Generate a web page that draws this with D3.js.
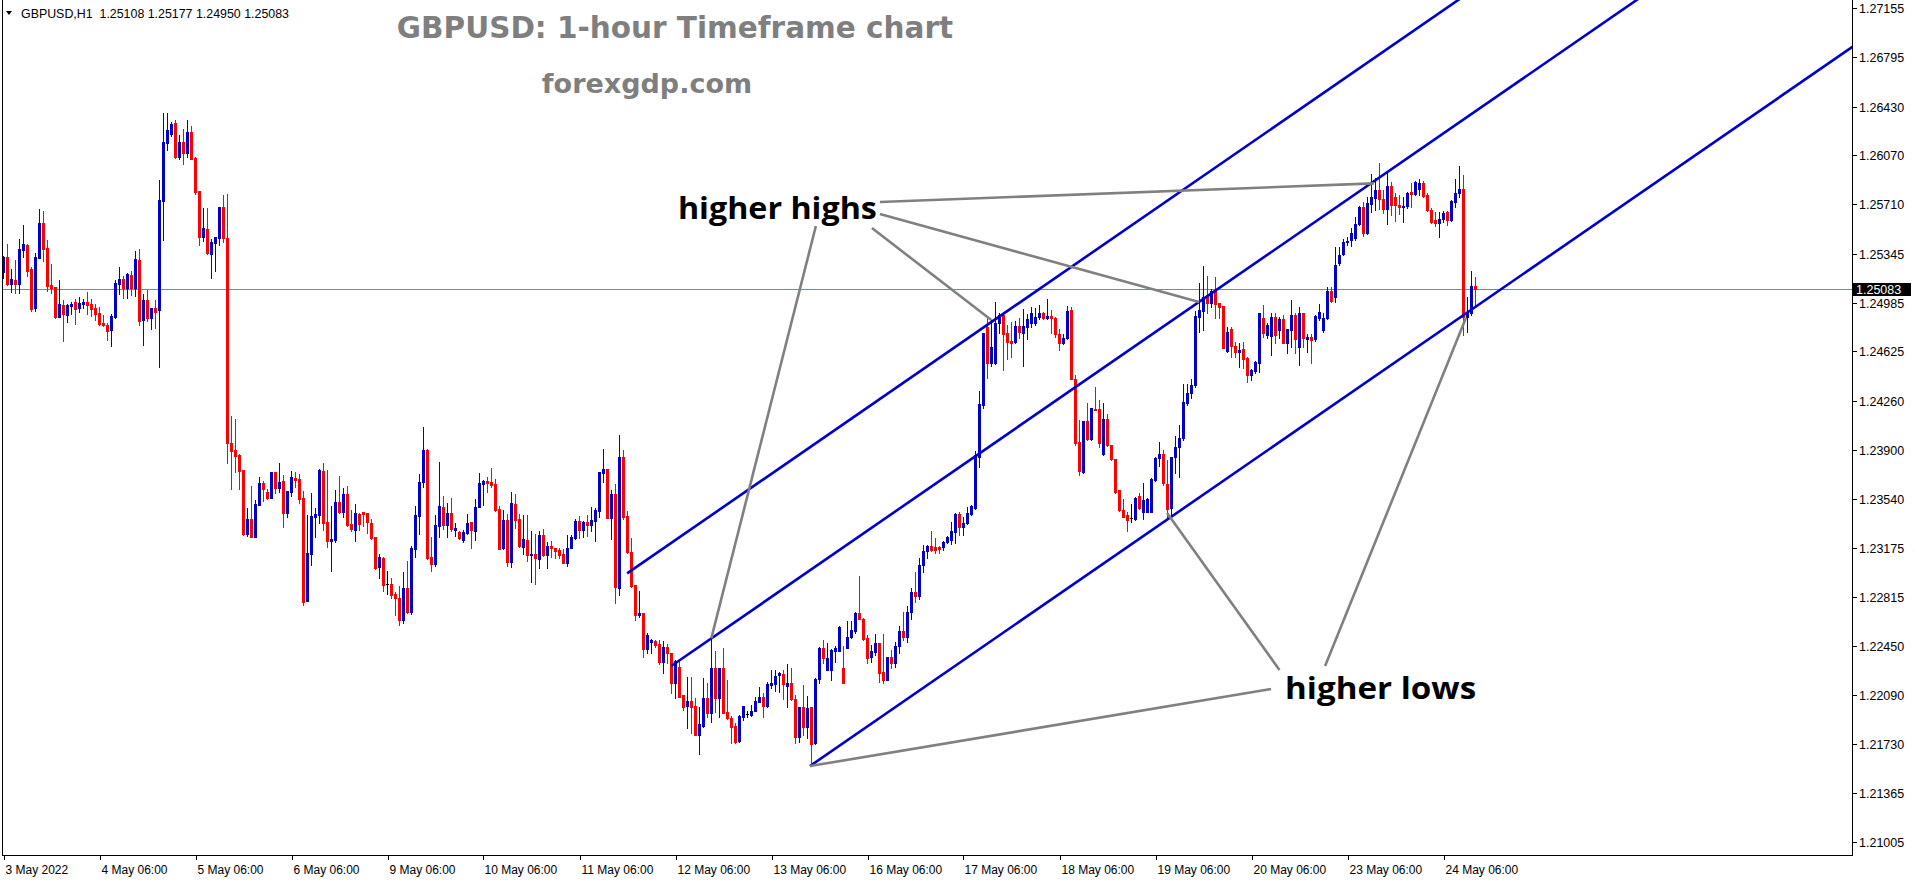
<!DOCTYPE html>
<html><head><meta charset="utf-8">
<script src="https://cdn.jsdelivr.net/npm/d3@7"></script>
<style>html,body{margin:0;padding:0;background:#fff;overflow:hidden}svg{display:block}</style>
</head><body>
<svg id="chart" width="1916" height="884"></svg>
<script>
// ---------------- data (hourly candles, 3 May 06:00 .. 24 May 14:00) ----------------
const open = [1.25212,1.25320,1.25121,1.25151,1.25121,1.25373,1.25409,1.25233,1.24943,1.25312,1.25572,1.25387,1.25115,1.25098,1.24879,1.24967,1.24894,1.24959,1.24989,1.24943,1.24974,1.24989,1.24974,1.24943,1.24907,1.24834,1.24819,1.24784,1.24879,1.25121,1.25158,1.25091,1.25187,1.25091,1.25298,1.24856,1.25004,1.24871,1.24943,1.24931,1.25734,1.26162,1.26227,1.26309,1.26058,1.26167,1.26088,1.26242,1.26051,1.25807,1.25470,1.25527,1.25345,1.25427,1.25459,1.25689,1.25459,1.23949,1.23899,1.23859,1.23749,1.23278,1.23388,1.23258,1.23493,1.23655,1.23587,1.23545,1.23735,1.23618,1.23667,1.23435,1.23590,1.23693,1.23686,
1.23544,1.22787,1.23134,1.23403,1.23420,1.23743,1.23367,1.23229,1.23236,1.23514,1.23440,1.23573,1.23352,1.23310,1.23426,1.23440,1.23433,1.23359,1.23256,1.23035,1.23102,1.22908,1.22910,1.22836,1.22806,1.22644,1.22880,1.22703,1.23168,1.23411,1.23662,1.23898,1.23109,1.23057,1.23337,1.23477,1.23345,1.23433,1.23308,1.23293,1.23234,1.23286,1.23367,1.23300,1.23477,1.23647,1.23669,1.23662,1.23647,1.23463,1.23175,1.23381,1.23072,1.23499,1.23389,1.23182,1.23234,1.23123,1.23131,1.23094,1.23271,1.23123,1.23190,1.23175,1.23160,1.23131,1.23064,1.23175,1.23249,1.23374,1.23308,1.23367,1.23345,1.23374,
1.23451,1.23726,1.23758,1.23399,1.23573,1.22878,1.23846,1.23411,1.23148,1.22902,1.22684,1.22698,1.22433,1.22482,1.22487,1.22467,1.22337,1.22448,1.22399,1.22178,1.22300,1.22092,1.22010,1.22049,1.22010,1.21796,1.21865,1.22072,1.21961,1.22293,1.22067,1.22288,1.21966,1.21919,1.21865,1.21754,1.21926,1.21953,1.21941,1.21976,1.22042,1.22079,1.22010,1.22165,1.22172,1.22236,1.22246,1.22158,1.22182,1.22059,1.21779,1.22000,1.21857,1.22000,1.21735,1.22207,1.22435,1.22276,1.22276,1.22418,1.22418,1.22293,1.22440,1.22516,1.22565,1.22698,1.22649,1.22509,1.22369,1.22411,1.22472,1.22263,1.22202,
1.22369,1.22330,1.22450,1.22560,1.22520,1.22700,1.22850,1.22820,1.23050,1.23150,1.23190,1.23185,1.23185,1.23180,1.23222,1.23234,1.23296,1.23426,1.23333,1.23357,1.23426,1.23468,1.23849,1.24230,1.24807,1.24537,1.24542,1.24832,1.24893,1.24758,1.24704,1.24697,1.24812,1.24763,1.24807,1.24837,1.24837,1.24876,1.24910,1.24869,1.24886,1.24869,1.24753,1.24684,1.24721,1.24930,1.24419,1.23959,1.23738,1.24112,1.23977,1.24200,1.24200,1.23866,1.24124,1.23935,1.23831,1.23603,1.23455,1.23418,1.23394,1.23389,1.23558,1.23443,1.23443,1.23443,1.23677,1.23836,1.23868,1.23647,1.23468,1.23849,1.23917,1.23984,
1.24242,1.24316,1.24380,1.24881,1.24925,1.25041,1.24979,1.25073,1.24979,1.24960,1.24630,1.24788,1.24665,1.24623,1.24640,1.24574,1.24451,1.24483,1.24542,1.24869,1.24746,1.24738,1.24876,1.24783,1.24861,1.24684,1.24783,1.24893,1.24660,1.24906,1.24716,1.24729,1.24714,1.24869,1.24783,1.24869,1.25073,1.25028,1.25274,1.25343,1.25434,1.25446,1.25459,1.25564,1.25692,1.25500,1.25712,1.25754,1.25815,1.25746,1.25672,1.25845,1.25760,1.25704,1.25687,1.25697,1.25803,1.25783,1.25820,1.25869,1.25778,1.25668,1.25594,1.25574,1.25599,1.25655,1.25594,1.25729,1.25795,1.25820,1.24881,1.24906,1.25108];
const high = [1.25330,1.25417,1.25233,1.25298,1.25452,1.25557,1.25417,1.25247,1.25350,1.25674,1.25660,1.25445,1.25268,1.25098,1.25151,1.25004,1.24974,1.24989,1.25011,1.25026,1.25011,1.25063,1.25011,1.24974,1.24951,1.24894,1.24832,1.24902,1.25151,1.25247,1.25180,1.25203,1.25218,1.25365,1.25380,1.25049,1.25081,1.24943,1.25004,1.25889,1.26382,1.26382,1.26314,1.26330,1.26220,1.26265,1.26330,1.26287,1.26058,1.25811,1.25682,1.25682,1.25452,1.25467,1.25689,1.25779,1.25786,1.24149,1.24126,1.23867,1.23752,1.23473,1.23632,1.23527,1.23698,1.23667,1.23608,1.23735,1.23735,1.23802,1.23712,1.23597,1.23742,1.23735,1.23720,
1.23595,1.23416,1.23580,1.23470,1.23755,1.23802,1.23750,1.23485,1.23603,1.23706,1.23617,1.23632,1.23455,1.23499,1.23433,1.23440,1.23433,1.23389,1.23256,1.23131,1.23109,1.23005,1.22954,1.22850,1.22895,1.22998,1.23079,1.23190,1.23485,1.23721,1.24067,1.23905,1.23256,1.23418,1.23809,1.23559,1.23507,1.23544,1.23359,1.23300,1.23308,1.23426,1.23367,1.23536,1.23728,1.23676,1.23699,1.23765,1.23684,1.23485,1.23455,1.23426,1.23588,1.23573,1.23426,1.23418,1.23418,1.23300,1.23278,1.23300,1.23315,1.23219,1.23226,1.23175,1.23175,1.23168,1.23271,1.23271,1.23389,1.23411,1.23374,1.23418,1.23477,1.23470,
1.23738,1.23905,1.23758,1.23603,1.23647,1.24008,1.23898,1.23448,1.23246,1.22902,1.22858,1.22698,1.22546,1.22502,1.22497,1.22497,1.22492,1.22467,1.22399,1.22349,1.22335,1.22092,1.22226,1.22226,1.22067,1.22000,1.22214,1.22177,1.22509,1.22416,1.22293,1.22435,1.22202,1.21936,1.21882,1.21944,1.22010,1.21973,1.22017,1.22079,1.22148,1.22104,1.22190,1.22276,1.22276,1.22263,1.22276,1.22320,1.22288,1.22092,1.22000,1.22165,1.22084,1.22005,1.22214,1.22448,1.22497,1.22477,1.22428,1.22453,1.22600,1.22453,1.22639,1.22639,1.22706,1.22969,1.22656,1.22534,1.22460,1.22541,1.22472,1.22541,1.22374,
1.22420,1.22480,1.22600,1.22700,1.22750,1.22880,1.23000,1.23100,1.23200,1.23200,1.23300,1.23246,1.23190,1.23229,1.23266,1.23369,1.23431,1.23443,1.23406,1.23480,1.23492,1.23888,1.24330,1.24763,1.24869,1.24856,1.24992,1.24906,1.24901,1.24819,1.24844,1.24849,1.24869,1.24935,1.24901,1.24955,1.24942,1.24967,1.24918,1.25009,1.24930,1.24876,1.24787,1.24753,1.24960,1.24955,1.24451,1.24119,1.24112,1.24242,1.24205,1.24365,1.24267,1.24242,1.24163,1.23935,1.23831,1.23603,1.23534,1.23443,1.23500,1.23554,1.23578,1.23652,1.23541,1.23689,1.23844,1.23954,1.23898,1.23824,1.23849,1.24000,1.24082,1.24385,
1.24385,1.24420,1.24920,1.25127,1.25255,1.25181,1.25083,1.25176,1.24979,1.24960,1.24807,1.24807,1.24697,1.24684,1.24697,1.24581,1.24493,1.24557,1.24911,1.24967,1.24832,1.24911,1.24906,1.24881,1.24893,1.24788,1.25004,1.24906,1.24950,1.24911,1.24753,1.24753,1.24893,1.24974,1.24906,1.25102,1.25098,1.25397,1.25392,1.25451,1.25466,1.25532,1.25618,1.25697,1.25729,1.25766,1.25933,1.25901,1.26017,1.25815,1.25943,1.25876,1.25790,1.25778,1.25766,1.25803,1.25869,1.25884,1.25894,1.25884,1.25795,1.25680,1.25655,1.25655,1.25663,1.25663,1.25741,1.25894,1.25992,1.25926,1.25028,1.25220,1.25177];
const low = [1.25168,1.25113,1.25063,1.25059,1.25059,1.25322,1.25180,1.24924,1.24924,1.25312,1.25293,1.25073,1.25059,1.24874,1.24879,1.24703,1.24844,1.24902,1.24827,1.24919,1.24943,1.24902,1.24887,1.24856,1.24819,1.24814,1.24709,1.24667,1.24874,1.25051,1.25018,1.25018,1.25041,1.25035,1.24819,1.24672,1.24851,1.24789,1.24796,1.24513,1.25445,1.26113,1.26215,1.26051,1.26043,1.26005,1.26058,1.26043,1.25788,1.25412,1.25438,1.25345,1.25165,1.25218,1.25412,1.25430,1.23804,1.23613,1.23737,1.23613,1.23271,1.23263,1.23258,1.23253,1.23493,1.23522,1.23538,1.23545,1.23582,1.23587,1.23331,1.23406,1.23560,1.23628,1.23509,
1.22757,1.22787,1.23050,1.23256,1.23359,1.23310,1.23185,1.23005,1.23222,1.23433,1.23406,1.23337,1.23303,1.23227,1.23308,1.23337,1.23286,1.23241,1.23020,1.22954,1.22858,1.22836,1.22806,1.22681,1.22607,1.22622,1.22695,1.22688,1.23109,1.23278,1.23625,1.23094,1.23005,1.23042,1.23256,1.23315,1.23256,1.23300,1.23263,1.23241,1.23219,1.23278,1.23175,1.23234,1.23477,1.23492,1.23588,1.23625,1.23448,1.23168,1.23168,1.23042,1.23035,1.23322,1.23182,1.23131,1.23079,1.22924,1.22910,1.23028,1.23116,1.23028,1.23109,1.23101,1.23101,1.23064,1.23042,1.23175,1.23241,1.23249,1.23256,1.23263,1.23300,1.23227,
1.23401,1.23664,1.23394,1.23239,1.22772,1.22829,1.23386,1.23136,1.22890,1.22645,1.22664,1.22374,1.22399,1.22404,1.22448,1.22317,1.22251,1.22325,1.22104,1.22067,1.22079,1.21981,1.21845,1.21808,1.21796,1.21653,1.21858,1.21931,1.21894,1.21968,1.21931,1.21956,1.21912,1.21740,1.21740,1.21747,1.21907,1.21931,1.21936,1.21976,1.22042,1.21931,1.22005,1.22140,1.22123,1.22116,1.22059,1.22000,1.22054,1.21740,1.21747,1.21796,1.21772,1.21565,1.21730,1.22177,1.22325,1.22276,1.22202,1.22337,1.22418,1.22182,1.22440,1.22509,1.22546,1.22649,1.22497,1.22325,1.22337,1.22386,1.22190,1.22177,1.22202,
1.22290,1.22300,1.22400,1.22500,1.22480,1.22650,1.22780,1.22800,1.23000,1.23100,1.23150,1.23140,1.23140,1.23160,1.23215,1.23205,1.23210,1.23271,1.23271,1.23352,1.23420,1.23460,1.23775,1.24210,1.24426,1.24517,1.24530,1.24763,1.24488,1.24566,1.24586,1.24689,1.24721,1.24517,1.24714,1.24807,1.24819,1.24861,1.24861,1.24861,1.24758,1.24733,1.24635,1.24679,1.24714,1.24419,1.23935,1.23713,1.23731,1.23972,1.23972,1.24193,1.23922,1.23861,1.23927,1.23824,1.23583,1.23450,1.23401,1.23303,1.23364,1.23384,1.23460,1.23386,1.23438,1.23438,1.23672,1.23782,1.23640,1.23406,1.23386,1.23726,1.23701,1.23972,
1.24230,1.24280,1.24360,1.24771,1.24783,1.24906,1.24955,1.24869,1.24869,1.24648,1.24623,1.24586,1.24586,1.24512,1.24500,1.24400,1.24414,1.24463,1.24475,1.24734,1.24721,1.24598,1.24684,1.24721,1.24684,1.24611,1.24660,1.24611,1.24525,1.24660,1.24623,1.24537,1.24704,1.24860,1.24770,1.24861,1.24992,1.24992,1.25262,1.25336,1.25410,1.25402,1.25446,1.25557,1.25476,1.25491,1.25655,1.25668,1.25673,1.25643,1.25564,1.25631,1.25589,1.25638,1.25582,1.25680,1.25692,1.25778,1.25778,1.25761,1.25663,1.25574,1.25550,1.25471,1.25582,1.25557,1.25589,1.25692,1.25761,1.24746,1.24770,1.24893,1.24950];
const close = [1.25322,1.25121,1.25158,1.25121,1.25380,1.25420,1.25220,1.24936,1.25320,1.25572,1.25380,1.25105,1.25091,1.24879,1.24974,1.24904,1.24967,1.24977,1.24939,1.24984,1.24989,1.24969,1.24939,1.24902,1.24827,1.24819,1.24777,1.24887,1.25128,1.25158,1.25091,1.25196,1.25091,1.25305,1.24849,1.25004,1.24871,1.24943,1.24914,1.25742,1.26167,1.26258,1.26302,1.26058,1.26167,1.26088,1.26242,1.26043,1.25799,1.25470,1.25534,1.25350,1.25432,1.25467,1.25689,1.25459,1.23946,1.23891,1.23854,1.23744,1.23278,1.23388,1.23258,1.23498,1.23655,1.23613,1.23545,1.23735,1.23618,1.23660,1.23435,1.23597,1.23698,1.23677,1.23536,
1.22777,1.23139,1.23411,1.23425,1.23750,1.23362,1.23229,1.23241,1.23514,1.23440,1.23573,1.23345,1.23315,1.23433,1.23352,1.23426,1.23367,1.23249,1.23028,1.23109,1.22902,1.22908,1.22828,1.22806,1.22644,1.22880,1.22703,1.23175,1.23418,1.23662,1.23898,1.23102,1.23057,1.23345,1.23485,1.23345,1.23433,1.23315,1.23322,1.23249,1.23293,1.23359,1.23308,1.23477,1.23654,1.23669,1.23654,1.23639,1.23455,1.23168,1.23381,1.23072,1.23507,1.23381,1.23190,1.23241,1.23123,1.23131,1.23102,1.23271,1.23123,1.23190,1.23175,1.23153,1.23123,1.23064,1.23175,1.23256,1.23374,1.23308,1.23367,1.23345,1.23381,1.23455,
1.23733,1.23758,1.23399,1.23573,1.22885,1.23846,1.23406,1.23148,1.22897,1.22684,1.22698,1.22433,1.22536,1.22497,1.22462,1.22337,1.22448,1.22399,1.22178,1.22342,1.22079,1.22005,1.22049,1.22005,1.21796,1.21877,1.22072,1.21961,1.22293,1.22067,1.22288,1.21961,1.21919,1.21857,1.21747,1.21936,1.22010,1.21953,1.21976,1.22049,1.22079,1.22010,1.22172,1.22182,1.22231,1.22251,1.22172,1.22182,1.22059,1.21779,1.22000,1.21857,1.21995,1.21730,1.22207,1.22435,1.22362,1.22362,1.22423,1.22435,1.22595,1.22182,1.22516,1.22570,1.22698,1.22649,1.22502,1.22362,1.22418,1.22477,1.22256,1.22202,1.22369,
1.22330,1.22450,1.22560,1.22520,1.22700,1.22850,1.22820,1.23050,1.23150,1.23192,1.23160,1.23160,1.23165,1.23222,1.23259,1.23303,1.23426,1.23333,1.23362,1.23436,1.23485,1.23861,1.24237,1.24763,1.24537,1.24655,1.24832,1.24893,1.24753,1.24697,1.24689,1.24812,1.24770,1.24812,1.24861,1.24910,1.24881,1.24910,1.24869,1.24886,1.24869,1.24753,1.24689,1.24721,1.24925,1.24419,1.23952,1.23745,1.24112,1.23977,1.24205,1.24195,1.23947,1.24124,1.23935,1.23829,1.23590,1.23455,1.23406,1.23382,1.23394,1.23546,1.23468,1.23529,1.23534,1.23681,1.23841,1.23868,1.23652,1.23460,1.23849,1.23922,1.23984,1.24254,
1.24316,1.24380,1.24888,1.24930,1.25028,1.24984,1.25073,1.24974,1.24955,1.24652,1.24770,1.24667,1.24623,1.24635,1.24569,1.24451,1.24488,1.24549,1.24906,1.24758,1.24820,1.24876,1.24746,1.24861,1.24684,1.24788,1.24893,1.24716,1.24911,1.24721,1.24729,1.24709,1.24886,1.24918,1.24869,1.25073,1.24999,1.25262,1.25336,1.25434,1.25441,1.25500,1.25564,1.25692,1.25500,1.25722,1.25761,1.25815,1.25746,1.25672,1.25845,1.25704,1.25704,1.25687,1.25697,1.25795,1.25783,1.25874,1.25864,1.25771,1.25668,1.25582,1.25569,1.25599,1.25648,1.25594,1.25736,1.25795,1.25820,1.24881,1.24906,1.25107,1.25083];

const xTickLabels = ["3 May 2022","4 May 06:00","5 May 06:00","6 May 06:00","9 May 06:00","10 May 06:00","11 May 06:00","12 May 06:00","13 May 06:00","16 May 06:00","17 May 06:00","18 May 06:00","19 May 06:00","20 May 06:00","23 May 06:00","24 May 06:00"];
const barsPerLabel = 24;
const yTickValues = [1.27155,1.26795,1.26430,1.26070,1.25710,1.25345,1.24985,1.24625,1.24260,1.23900,1.23540,1.23175,1.22815,1.22450,1.22090,1.21730,1.21365,1.21005];
const symbolHeader = "GBPUSD,H1  1.25108 1.25177 1.24950 1.25083";
const bidPrice = 1.25083;

// channel (three parallel lines): start bar index, start price, slope per bar
const channelStartBar = [155.9, 166.95, 201.6];
const channelStartPrice = [1.22988, 1.22305, 1.21567];
const channelSlope = 0.0002035;

// annotation connector lines: [bar1, price1, bar2, price2]
const highsConnectors = [[219.1,1.25727,342.6,1.25864],[219.1,1.25638,298.9,1.24989],[217.1,1.25535,246.95,1.24856],[203.1,1.25550,176.95,1.22509]];
const lowsConnectors = [[319.0,1.22275,290.9,1.23433],[330.4,1.22305,365.6,1.24871],[316.9,1.22135,201.6,1.21567]];
const annotationText = ["higher highs", "higher lows"];
const annotationBar = [168.6, 320.4];
const annotationPrice = [1.25682, 1.22142];

// ---------------- drawing ----------------
const W = 1916, H = 884;
const plot = {left: 2, right: 1852, top: 0, bottom: 855};
const lastBarView = 462;
const x = d3.scaleLinear().domain([0, lastBarView]).range([3.5, 3.5 + lastBarView * 4]);
const y = d3.scaleLinear().domain([d3.min(yTickValues), d3.max(yTickValues)]).range([842.3, 8.3]);

const svg = d3.select("#chart");
svg.append("rect").attr("width", W).attr("height", H).attr("fill", "#fff");

svg.append("defs").append("clipPath").attr("id", "clip")
  .append("rect").attr("x", plot.left + 1).attr("y", plot.top).attr("width", plot.right - plot.left - 1).attr("height", plot.bottom - plot.top);

const g = svg.append("g").attr("clip-path", "url(#clip)");

// title / watermark
svg.append("text").attr("x", 675).attr("y", 38).attr("text-anchor", "middle")
  .attr("font-family", "DejaVu Sans, Verdana, sans-serif").attr("font-weight", "bold").attr("font-size", 29.5)
  .attr("fill", "#7f7f7f").text("GBPUSD: 1-hour Timeframe chart");
svg.append("text").attr("x", 647).attr("y", 93).attr("text-anchor", "middle")
  .attr("font-family", "DejaVu Sans, Verdana, sans-serif").attr("font-weight", "bold").attr("font-size", 27)
  .attr("fill", "#7f7f7f").text("forexgdp.com");

// bid line
g.append("line").attr("x1", plot.left).attr("x2", plot.right)
  .attr("y1", Math.round(y(bidPrice)) + 0.5).attr("y2", Math.round(y(bidPrice)) + 0.5)
  .attr("stroke", "#778899").attr("stroke-width", 1);

// candles
const data = open.map((o, i) => ({i, o, h: high[i], l: low[i], c: close[i]}));
const colorOf = d => d.c > d.o ? "#0000cd" : (d.c < d.o ? "#ff0000" : "#000000");
const candles = g.append("g").selectAll("g").data(data).join("g");
candles.append("line")
  .attr("x1", d => x(d.i)).attr("x2", d => x(d.i))
  .attr("y1", d => Math.round(y(d.h))).attr("y2", d => Math.round(y(d.l)) + 1)
  .attr("stroke", colorOf).attr("stroke-width", 1);
candles.append("rect")
  .attr("x", d => x(d.i) - 1.5).attr("width", 3)
  .attr("y", d => Math.round(y(Math.max(d.o, d.c))))
  .attr("height", d => Math.max(1, Math.round(y(Math.min(d.o, d.c))) - Math.round(y(Math.max(d.o, d.c))) + 1))
  .attr("fill", colorOf);

// channel lines
const channelEndBar = 520;
channelStartBar.forEach((b, k) => {
  const p0 = channelStartPrice[k];
  g.append("line")
    .attr("x1", x(b)).attr("y1", y(p0))
    .attr("x2", x(channelEndBar)).attr("y2", y(p0 + (channelEndBar - b) * channelSlope))
    .attr("stroke", "#0000cd").attr("stroke-width", 2.6);
});

// connectors
highsConnectors.concat(lowsConnectors).forEach(c => {
  g.append("line")
    .attr("x1", x(c[0])).attr("y1", y(c[1])).attr("x2", x(c[2])).attr("y2", y(c[3]))
    .attr("stroke", "#808080").attr("stroke-width", 2.6);
});

// annotation texts
const annotationWidth = [199, 191];
annotationText.forEach((t, k) => {
  svg.append("text").attr("x", x(annotationBar[k])).attr("y", y(annotationPrice[k]) + 11)
    .attr("font-family", "Open Sans, Lato, sans-serif").attr("font-weight", "bold").attr("font-size", 31)
    .attr("textLength", annotationWidth[k]).attr("lengthAdjust", "spacingAndGlyphs")
    .attr("fill", "#000").text(t);
});

// frame
svg.append("line").attr("x1", plot.left + 0.5).attr("x2", plot.left + 0.5).attr("y1", 0).attr("y2", plot.bottom + 0.5).attr("stroke", "#000");
svg.append("line").attr("x1", plot.right + 0.5).attr("x2", plot.right + 0.5).attr("y1", 0).attr("y2", plot.bottom + 0.5).attr("stroke", "#000");
svg.append("line").attr("x1", plot.left).attr("x2", plot.right + 1).attr("y1", plot.bottom + 0.5).attr("y2", plot.bottom + 0.5).attr("stroke", "#000");

// y axis (right)
const yAxis = svg.append("g");
yTickValues.forEach(v => {
  const yy = Math.round(y(v)) + 0.5;
  yAxis.append("line").attr("x1", plot.right + 1).attr("x2", plot.right + 5).attr("y1", yy).attr("y2", yy).attr("stroke", "#000");
  yAxis.append("text").attr("x", plot.right + 7).attr("y", yy + 4.5)
    .attr("font-family", "Liberation Sans, Arial, sans-serif").attr("font-size", 12.5).attr("fill", "#000").text(v.toFixed(5));
});
// bid price label
const by = Math.round(y(bidPrice));
yAxis.append("rect").attr("x", plot.right + 1).attr("y", by - 6).attr("width", 58).attr("height", 13).attr("fill", "#000");
yAxis.append("text").attr("x", plot.right + 4).attr("y", by + 5)
  .attr("font-family", "Liberation Sans, Arial, sans-serif").attr("font-size", 12.5).attr("fill", "#fff").text(bidPrice.toFixed(5));

// x axis
const xAxis = svg.append("g");
xTickLabels.forEach((t, k) => {
  const xx = Math.round(x(k * barsPerLabel)) + 0.5;
  xAxis.append("line").attr("x1", xx).attr("x2", xx).attr("y1", plot.bottom + 1).attr("y2", plot.bottom + 5).attr("stroke", "#000");
  xAxis.append("text").attr("x", xx + 1).attr("y", plot.bottom + 19)
    .attr("font-family", "Liberation Sans, Arial, sans-serif").attr("font-size", 12).attr("fill", "#000").text(t);
});

// header
svg.append("path").attr("d", d3.line()([[6, 11], [12, 11], [9, 15]]) + "Z").attr("fill", "#000");
svg.append("text").attr("x", 21).attr("y", 17.5)
  .attr("font-family", "Liberation Sans, Arial, sans-serif").attr("font-size", 12.4).attr("fill", "#000")
  .attr("xml:space", "preserve").style("white-space", "pre").text(symbolHeader);
</script>
</body></html>
